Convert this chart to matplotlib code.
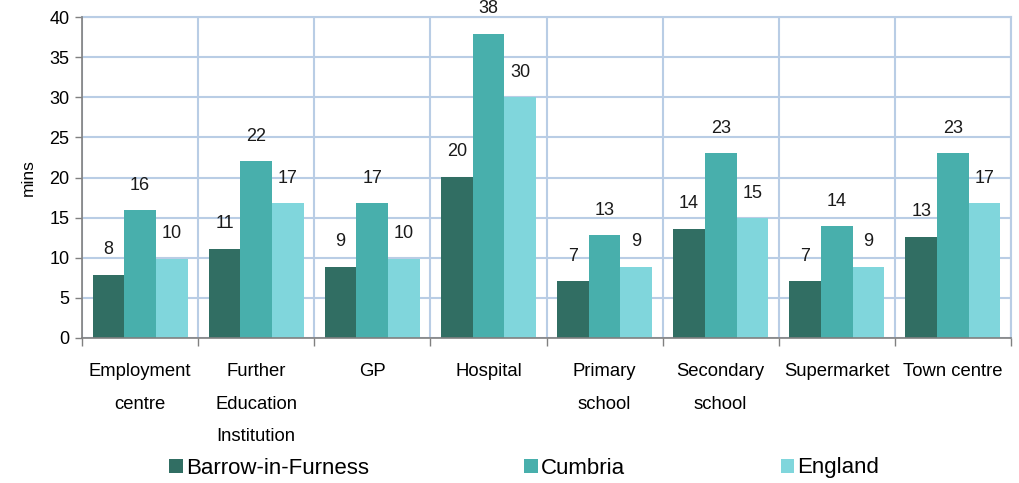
import matplotlib
matplotlib.use("Agg")
import matplotlib.pyplot as plt
import numpy as np

plt.rcParams['font.family'] = ['Liberation Sans', 'DejaVu Sans']

categories = ["Employment\ncentre", "Further\nEducation\nInstitution", "GP", "Hospital",
              "Primary\nschool", "Secondary\nschool", "Supermarket", "Town centre"]
series_names = ["Barrow-in-Furness", "Cumbria", "England"]
barrow = [7.9, 11.1, 8.9, 20.1, 7.1, 13.6, 7.1, 12.6]
cumbria = [15.9, 22.0, 16.8, 37.9, 12.8, 23.0, 13.9, 23.0]
england = [9.9, 16.8, 9.9, 30.0, 8.9, 14.9, 8.9, 16.8]
colors = ["#316E63", "#48AFAC", "#80D6DC"]

fig = plt.figure(figsize=(10.2, 4.83), dpi=100)
ax = fig.add_axes([82/1020, 1-338/483, (1011-82)/1020, (338-17)/483])

x = np.arange(len(categories))
w = 0.273
for i, (vals, name, c) in enumerate(zip([barrow, cumbria, england], series_names, colors)):
    pos = x + (i - 1) * w
    ax.bar(pos, vals, width=w, color=c, label=name, zorder=3, linewidth=0)
    for px, v in zip(pos, vals):
        ax.annotate(f"{v:.0f}", (px, v), xytext=(0, 18), textcoords="offset points",
                    ha="center", va="center", fontsize=13, color="#1a1a1a", zorder=4)

ax.set_xlim(-0.5, len(categories) - 0.5)
ax.set_ylim(0, 40)
ax.set_yticks(np.arange(0, 41, 5))
ax.tick_params(axis='y', labelsize=13, length=5, width=1, color="#808080", pad=4)

ax.set_xticks(x)
ax.set_xticklabels(categories, fontsize=13.3, linespacing=2.2)
ax.tick_params(axis='x', which='major', length=0, pad=18)
ax.set_xticks(np.arange(-0.5, len(categories), 1), minor=True)
ax.tick_params(axis='x', which='minor', length=6, width=1, color="#808080")

grid_c = "#B9CDE5"
ax.grid(axis='y', which='major', color=grid_c, linewidth=1.5, zorder=0)
ax.grid(axis='x', which='minor', color=grid_c, linewidth=1.5, zorder=0)
ax.set_axisbelow(True)
for s in ['top', 'right']:
    ax.spines[s].set_color(grid_c)
    ax.spines[s].set_linewidth(1.5)
for s in ['left', 'bottom']:
    ax.spines[s].set_color("#808080")
    ax.spines[s].set_linewidth(1.2)
    ax.spines[s].set_zorder(5)

ax.set_ylabel("mins", fontsize=12.5, labelpad=10)

fig.legend(loc='center', bbox_to_anchor=(0.514, 1 - 468/483), ncol=3, frameon=False,
           fontsize=16, handlelength=0.6, handleheight=0.6, handletextpad=0.15,
           columnspacing=7.0, borderpad=0)

fig.savefig("out.png", dpi=100)
